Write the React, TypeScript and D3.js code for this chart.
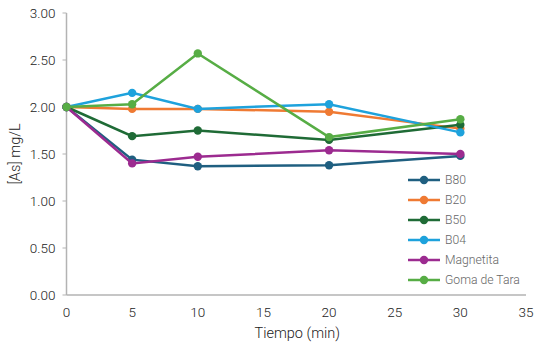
import React from "react";
import * as d3 from "d3";

const times = [0, 5, 10, 20, 30];
const seriesNames = ["B80", "B20", "B50", "B04", "Magnetita", "Goma de Tara"];
const b80 = [2.0, 1.44, 1.37, 1.38, 1.48];
const b20 = [2.0, 1.98, 1.98, 1.95, 1.77];
const b50 = [2.0, 1.69, 1.75, 1.65, 1.81];
const b04 = [2.0, 2.15, 1.98, 2.03, 1.73];
const magnetita = [2.0, 1.40, 1.47, 1.54, 1.50];
const gomaDeTara = [2.0, 2.03, 2.57, 1.68, 1.87];
const colors = ["#1f5f80", "#ef7a33", "#1f6b36", "#1ea2dc", "#9c2b90", "#57ad45"];
const yTicks = [0, 0.5, 1, 1.5, 2, 2.5, 3];
const xTicks = [0, 5, 10, 15, 20, 25, 30, 35];

const W = 549, H = 353;
const margin = { left: 66.5, right: 23, top: 13, bottom: 58 };

export default function App() {
  const data = [b80, b20, b50, b04, magnetita, gomaDeTara];
  const x = d3.scaleLinear().domain([0, 35]).range([margin.left, W - margin.right]);
  const y = d3.scaleLinear().domain([0, 3]).range([H - margin.bottom, margin.top]);
  const line = d3
    .line<number>()
    .x((_, i) => x(times[i]))
    .y((d) => y(d));
  const font = "Roboto, 'Noto Sans', sans-serif";
  const legendX = 408;
  const legendY = 180;
  return (
    <svg
      width={W}
      height={H}
      style={{ position: "fixed", left: 0, top: 0, background: "#fff" }}
      fontFamily={font}
    >
      {/* axes */}
      <line x1={x(0)} x2={x(0)} y1={y(3)} y2={y(0)} stroke="#b3b3b3" strokeWidth={1.5} />
      <line x1={x(0)} x2={x(35)} y1={y(0)} y2={y(0)} stroke="#b3b3b3" strokeWidth={1.5} />
      {yTicks.map((t) => (
        <g key={t}>
          <line x1={x(0) - 4} x2={x(0)} y1={y(t)} y2={y(t)} stroke="#b3b3b3" strokeWidth={1} />
          <text
            x={x(0) - 11}
            y={y(t)}
            textAnchor="end"
            dominantBaseline="central"
            fontSize={13.5}
            fontWeight={300}
            fill="#222"
          >
            {t.toFixed(2)}
          </text>
        </g>
      ))}
      {xTicks.map((t) => (
        <text
          key={t}
          x={x(t)}
          y={y(0) + 17}
          textAnchor="middle"
          dominantBaseline="central"
          fontSize={13.5}
          fontWeight={300}
          fill="#222"
        >
          {t}
        </text>
      ))}
      <text
        x={(x(0) + x(35)) / 2 + 1}
        y={333}
        textAnchor="middle"
        dominantBaseline="central"
        fontSize={14.5}
        fontWeight={300}
        fill="#222"
      >
        Tiempo (min)
      </text>
      <text
        transform={`translate(15,${(y(0) + y(3)) / 2}) rotate(-90)`}
        textAnchor="middle"
        dominantBaseline="central"
        fontSize={14.5}
        fontWeight={300}
        fill="#222"
      >
        [As] mg/L
      </text>
      {/* series */}
      {data.map((vals, si) => (
        <g key={si}>
          <path d={line(vals) || ""} fill="none" stroke={colors[si]} strokeWidth={2.5} />
          {vals.map((v, i) => (
            <circle key={i} cx={x(times[i])} cy={y(v)} r={4.2} fill={colors[si]} />
          ))}
        </g>
      ))}
      {/* legend */}
      {seriesNames.map((n, i) => (
        <g key={n} transform={`translate(${legendX},${legendY + i * 20})`}>
          <line x1={0} x2={32} y1={0} y2={0} stroke={colors[i]} strokeWidth={2.5} />
          <circle cx={16} cy={0} r={4.2} fill={colors[i]} />
          <text
            x={37}
            y={0}
            dominantBaseline="central"
            fontSize={12.2}
            fontWeight={300}
            fill="#666"
          >
            {n}
          </text>
        </g>
      ))}
    </svg>
  );
}
